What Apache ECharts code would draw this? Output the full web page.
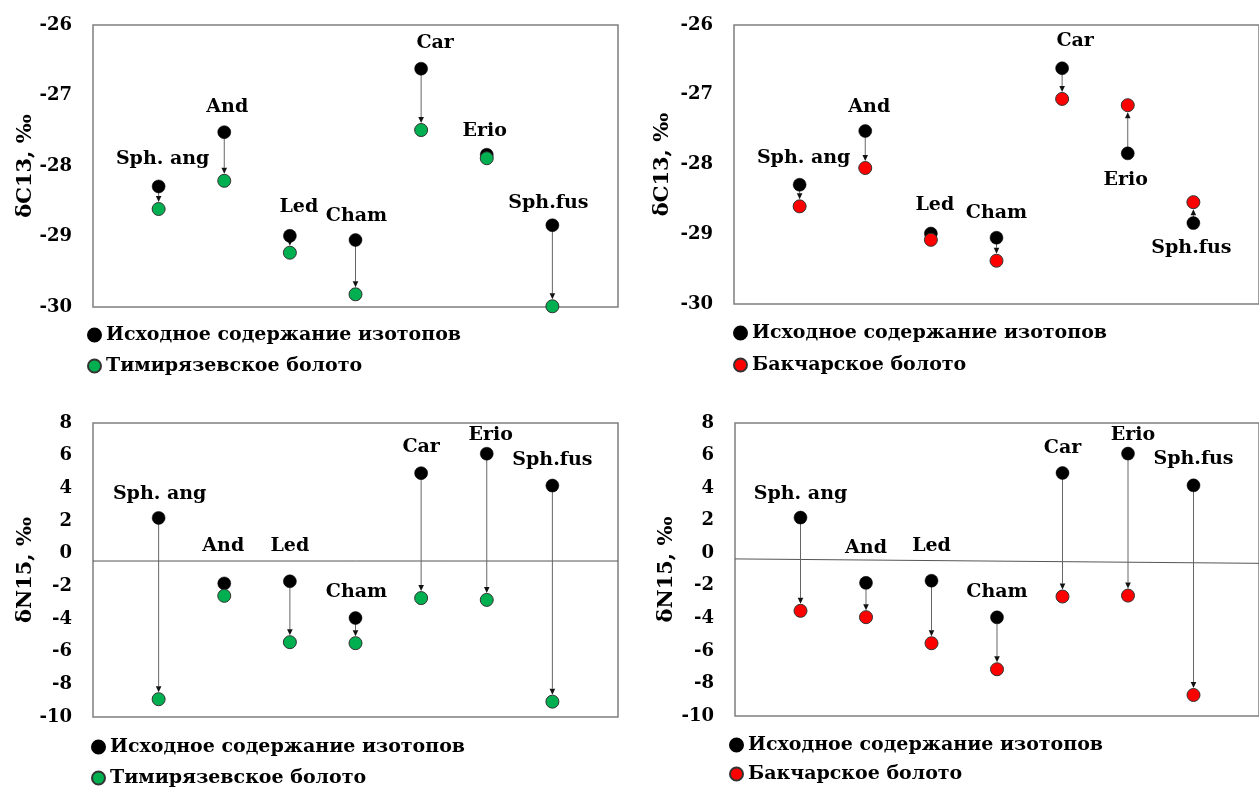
<!DOCTYPE html>
<html><head><meta charset="utf-8">
<script src="https://cdn.jsdelivr.net/npm/echarts@6/dist/echarts.min.js"></script>
<style>html,body{margin:0;padding:0;background:#fff}#c{width:1259px;height:789px}</style>
</head><body><div id="c"></div>
<script>
// ---------- data ----------
const categories = ['Sph. ang', 'And', 'Led', 'Cham', 'Car', 'Erio', 'Sph.fus'];
const c13Initial = [-28.29, -27.52, -28.99, -29.05, -26.62, -27.84, -28.84];
const c13Timir   = [-28.61, -28.21, -29.23, -29.82, -27.49, -27.89, -29.99];
const c13Bakchar = [-28.60, -28.05, -29.08, -29.38, -27.06, -27.15, -28.54];
const n15Initial = [2.19, -1.82, -1.69, -3.94, 4.93, 6.12, 4.17];
const n15Timir   = [-8.91, -2.58, -5.42, -5.48, -2.72, -2.83, -9.06];
const n15Bakchar = [-3.54, -3.93, -5.53, -7.13, -2.66, -2.60, -8.71];
const c13Ticks = [-30, -29, -28, -27, -26];
const n15Ticks = [-10, -8, -6, -4, -2, 0, 2, 4, 6, 8];
const zeroLineTimir = [-0.45, -0.45];
const zeroLineBakchar = [-0.35, -0.62];
const nameInitial = 'Исходное содержание изотопов';
const nameTimir = 'Тимирязевское болото';
const nameBakchar = 'Бакчарское болото';
const titleC13 = 'δC13, ‰';
const titleN15 = 'δN15, ‰';

// ---------- layout ----------
const FONT = 'DejaVu Serif';
const grids = [
  {left: 93, top: 25, width: 525, height: 282},
  {left: 734, top: 25, width: 530, height: 279},
  {left: 93, top: 423, width: 525, height: 294},
  {left: 735, top: 423, width: 530, height: 293}
];
const labelOffsets = [
  [[4,-27],[3,-25],[9,-29],[1,-24],[14,-26],[-2,-24],[-4,-22]],
  [[4,-27],[4,-24],[4,-28],[0,-25],[13,-27],[-2,27],[-2,25]],
  [[1,-24],[-1,-37],[0,-35],[1,-26],[0,-26],[4,-19],[0,-25]],
  [[0,-24],[0,-35],[0,-35],[0,-25],[0,-25],[5,-19],[0,-26]]
];
const nameGaps = [57, 61, 52, 58];
const legends = [
  {left: 87, top: 325, gap: 11},
  {left: 733, top: 323, gap: 12},
  {left: 91, top: 737, gap: 11},
  {left: 729, top: 735, gap: 9}
];
const COLORS = {init: '#000000', timir: '#00B050', bakchar: '#FF0000'};
const R = 6.5;

const panels = [
  {initial: c13Initial, target: c13Timir, tName: nameTimir, tColor: COLORS.timir, ticks: c13Ticks, title: titleC13},
  {initial: c13Initial, target: c13Bakchar, tName: nameBakchar, tColor: COLORS.bakchar, ticks: c13Ticks, title: titleC13},
  {initial: n15Initial, target: n15Timir, tName: nameTimir, tColor: COLORS.timir, ticks: n15Ticks, title: titleN15, zero: zeroLineTimir},
  {initial: n15Initial, target: n15Bakchar, tName: nameBakchar, tColor: COLORS.bakchar, ticks: n15Ticks, title: titleN15, zero: zeroLineBakchar}
];

const option = {
  animation: false,
  backgroundColor: '#fff',
  grid: grids.map(g => Object.assign({show: true, borderColor: '#7f7f7f', borderWidth: 1.5, backgroundColor: 'transparent'}, g)),
  xAxis: grids.map((g, i) => ({gridIndex: i, type: 'value', min: 0, max: categories.length + 1, show: false})),
  yAxis: panels.map((p, i) => ({
    gridIndex: i, type: 'value',
    min: p.ticks[0], max: p.ticks[p.ticks.length - 1], interval: p.ticks[1] - p.ticks[0],
    axisLine: {show: false}, axisTick: {show: false}, splitLine: {show: false},
    axisLabel: {fontFamily: FONT, fontWeight: 'bold', fontSize: 18, color: '#000', margin: 21},
    name: p.title, nameLocation: 'middle', nameGap: nameGaps[i], nameRotate: 90,
    nameTextStyle: {fontFamily: FONT, fontWeight: 'bold', fontSize: 21, color: '#000'}
  })),
  legend: panels.map((p, i) => ({
    data: [nameInitial, p.tName],
    orient: 'vertical', left: legends[i].left, top: legends[i].top, itemGap: legends[i].gap,
    height: 60, width: 420, padding: 0,
    icon: 'circle', itemWidth: 13, itemHeight: 13, selectedMode: false,
    textStyle: {fontFamily: FONT, fontWeight: 'bold', fontSize: 19, color: '#000', lineHeight: 20}
  })),
  series: []
};

panels.forEach((p, i) => {
  if (p.zero) {
    option.series.push({
      type: 'line', xAxisIndex: i, yAxisIndex: i, silent: true, symbol: 'none', z: 1,
      data: [[0, p.zero[0]], [categories.length + 1, p.zero[1]]],
      lineStyle: {color: '#555', width: 1}
    });
  }
  option.series.push({
    type: 'custom', xAxisIndex: i, yAxisIndex: i, silent: true, z: 2,
    data: categories.map((c, k) => [k + 1, p.initial[k], p.target[k]]),
    encode: {x: 0, y: [1, 2]},
    renderItem: function (params, api) {
      const x = api.value(0);
      const a = api.coord([x, api.value(1)]);
      const b = api.coord([x, api.value(2)]);
      const dy = b[1] - a[1];
      const dir = dy >= 0 ? 1 : -1;
      const tip = b[1] - dir * (R + 0.5);
      const head = 6;
      if (Math.abs(dy) < R + head) return null;
      return {
        type: 'group',
        children: [
          {type: 'line', shape: {x1: a[0], y1: a[1], x2: b[0], y2: tip - dir * head}, style: {stroke: '#666', lineWidth: 1}},
          {type: 'polygon', shape: {points: [[b[0] - 2.8, tip - dir * head], [b[0] + 2.8, tip - dir * head], [b[0], tip]]}, style: {fill: '#111'}}
        ]
      };
    }
  });
  option.series.push({
    name: nameInitial, type: 'scatter', xAxisIndex: i, yAxisIndex: i, z: 3,
    symbol: 'circle', symbolSize: 13,
    itemStyle: {color: COLORS.init, borderColor: '#000', borderWidth: 0.5, opacity: 1},
    label: {show: true, position: 'inside', formatter: (d) => categories[d.dataIndex],
      fontFamily: FONT, fontWeight: 'bold', fontSize: 19, color: '#000'},
    data: categories.map((c, k) => ({value: [k + 1, p.initial[k]], label: {offset: labelOffsets[i][k]}}))
  });
  option.series.push({
    name: p.tName, type: 'scatter', xAxisIndex: i, yAxisIndex: i, z: 4,
    symbol: 'circle', symbolSize: 13,
    itemStyle: {color: p.tColor, borderColor: '#333', borderWidth: 1, opacity: 1},
    data: categories.map((c, k) => [k + 1, p.target[k]])
  });
});

const chart = echarts.init(document.getElementById('c'), null, {renderer: 'canvas'});
chart.setOption(option);
</script></body></html>
